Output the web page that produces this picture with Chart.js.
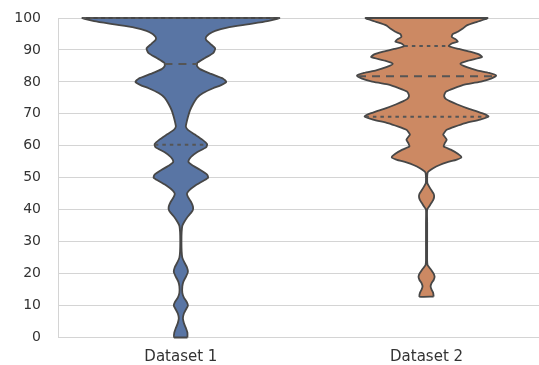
<!DOCTYPE html>
<html>
<head>
<meta charset="utf-8">
<script src="https://cdn.jsdelivr.net/npm/chart.js@4.4.1/dist/chart.umd.min.js"></script>
<style>
  html, body { margin: 0; padding: 0; background: #fff; }
  #wrap { width: 539px; height: 365px; }
</style>
</head>
<body>
<div id="wrap"><canvas id="chart"></canvas></div>
<script>
/* Violin plot, two groups. Outlines are the density:
   a value level and the relative half-width there (1 = widest). */
var categories = ['Dataset 1', 'Dataset 2'];

var levels1 = [0, 1.5, 3, 4.5, 6, 7.5, 9, 10, 11, 12.5, 14, 16, 17.5, 19, 20.5, 22, 23.5, 25,
    27, 30, 33, 35, 36, 37.5, 39, 40, 41, 42.5, 44, 45, 46, 47.5, 49, 50, 51, 52.5, 54, 55,
    56.5, 58, 59.5, 60.5, 62, 63.5, 65, 66, 67, 69, 71, 73, 75, 76.5, 78, 79, 80, 81, 82.5,
    84, 85, 86, 87.5, 89, 90.5, 92, 93.2, 94, 95, 96, 97, 98, 99, 100];
var density1 = [.067, .067, .051, .031, .021, .031, .056, .072, .062, .031, .015, .015, .026,
    .051, .072, .062, .036, .015, .008, .006, .008, .015, .031, .062, .103, .123, .123, .103,
    .072, .062, .082, .144, .226, .277, .267, .195, .113, .077, .103, .164, .256, .267, .215,
    .144, .072, .051, .056, .072, .092, .123, .164, .226, .328, .41, .462, .431, .308, .195,
    .164, .169, .246, .328, .349, .297, .256, .256, .287, .349, .472, .677, .882, 1];
var quartiles1 = [60.3, 85.6, 100];

var levels2 = [12.8, 14, 15, 16, 17, 18, 19, 20, 21, 22, 22.7, 24, 30, 36, 40, 41, 42, 43, 44,
    45, 46, 47, 48.3, 50, 51.5, 52, 53, 54, 54.8, 55.7, 56.4, 57.5, 58.8, 59.8, 60.8, 61.9,
    62.8, 63.5, 64.3, 65, 66, 67.1, 68.2, 69.2, 70.2, 71.8, 73, 73.9, 74.7, 75.5, 76.3, 77,
    78, 79.2, 80.2, 81, 82, 82.8, 83.6, 84.6, 85.7, 86.7, 87.8, 88.6, 89.4, 90.3, 91.2, 92,
    92.6, 93.3, 94.1, 95, 95.7, 96.7, 97.7, 98.8, 99.6, 100];
var density2 = [.072, .067, .051, .041, .051, .072, .082, .072, .051, .026, .010, .006, .006,
    .006, .006, .026, .046, .067, .077, .072, .051, .031, .008, .006, .010, .021, .067, .133,
    .205, .308, .354, .318, .246, .174, .185, .205, .185, .169, .185, .205, .287, .395, .544,
    .631, .564, .41, .308, .241, .195, .179, .185, .2, .277, .395, .564, .656, .708, .636,
    .513, .41, .344, .431, .564, .533, .451, .328, .226, .256, .318, .297, .256, .267, .318,
    .369, .41, .513, .595, .62];
var quartiles2 = [69.1, 81.8, 91.2];

var C = {
    blue: '#5975a4',
    orange: '#cc8963',
    edge: '#474747',
    inner: '#555555',
    grid: '#d4d4d4',
    text: '#333333'
};

var HALF = 0.4; // widest half-width, in category units

var outline = function (center, levels, dens) {
    var pts = [];
    for (var i = 0; i < levels.length; i++) pts.push({ x: center + dens[i] * HALF, y: levels[i] });
    for (var j = levels.length - 1; j >= 0; j--) pts.push({ x: center - dens[j] * HALF, y: levels[j] });
    pts.push({ x: pts[0].x, y: pts[0].y });
    return pts;
};

var widthAt = function (levels, dens, v) {
    for (var i = 1; i < levels.length; i++) {
        if (v <= levels[i]) {
            var t = (v - levels[i - 1]) / (levels[i] - levels[i - 1]);
            return dens[i - 1] + t * (dens[i] - dens[i - 1]);
        }
    }
    return dens[dens.length - 1];
};

var violin = function (center, levels, dens, color) {
    return {
        data: outline(center, levels, dens),
        showLine: true,
        fill: 'shape',
        backgroundColor: color,
        borderColor: C.edge,
        borderWidth: 1.8,
        borderJoinStyle: 'round',
        pointRadius: 0,
        tension: 0.2,
        clip: false,
        order: 2
    };
};

var innerLines = function (center, levels, dens, quarts) {
    return quarts.map(function (q, k) {
        var w = widthAt(levels, dens, q) * HALF;
        return {
            data: [{ x: center - w, y: q }, { x: center + w, y: q }],
            showLine: true,
            fill: false,
            borderColor: C.inner,
            borderWidth: 2,
            borderDash: k === 1 ? [8, 6] : [3.5, 4],
            pointRadius: 0,
            clip: false,
            order: 1
        };
    });
};

var datasets = [violin(0, levels1, density1, C.blue), violin(1, levels2, density2, C.orange)]
    .concat(innerLines(0, levels1, density1, quartiles1))
    .concat(innerLines(1, levels2, density2, quartiles2));

Chart.defaults.font.family = '"DejaVu Sans", sans-serif';
Chart.defaults.animation = false;

new Chart(document.getElementById('chart'), {
    type: 'scatter',
    data: { datasets: datasets },
    options: {
        responsive: true,
        maintainAspectRatio: false,
        layout: { padding: { top: 18, right: 0, bottom: 0, left: 0 } },
        plugins: { legend: { display: false }, tooltip: { enabled: false } },
        scales: {
            x: {
                type: 'linear',
                min: -0.5,
                max: 1.4576,
                grid: { display: false, drawTicks: false },
                border: { display: true, color: C.grid, width: 1 },
                afterBuildTicks: function (axis) {
                    axis.ticks = categories.map(function (c, i) { return { value: i }; });
                },
                afterFit: function (s) { s.height = 27.5; },
                ticks: {
                    autoSkip: false,
                    maxRotation: 0,
                    padding: 11,
                    color: C.text,
                    font: { size: 15 },
                    callback: function (v) { return categories[v]; }
                }
            },
            y: {
                min: 0,
                max: 100,
                grid: { color: C.grid, lineWidth: 1, drawTicks: false },
                border: { display: true, color: C.grid, width: 1 },
                // fixed axis width; tick padding must not push the plot down
                afterFit: function (s) {
                    s.width = 58;
                    s.paddingTop = 0;
                    s.paddingBottom = 0;
                },
                ticks: {
                    stepSize: 10,
                    padding: 17,
                    color: C.text,
                    font: { size: 14 }
                }
            }
        }
    }
});
</script>
</body>
</html>
